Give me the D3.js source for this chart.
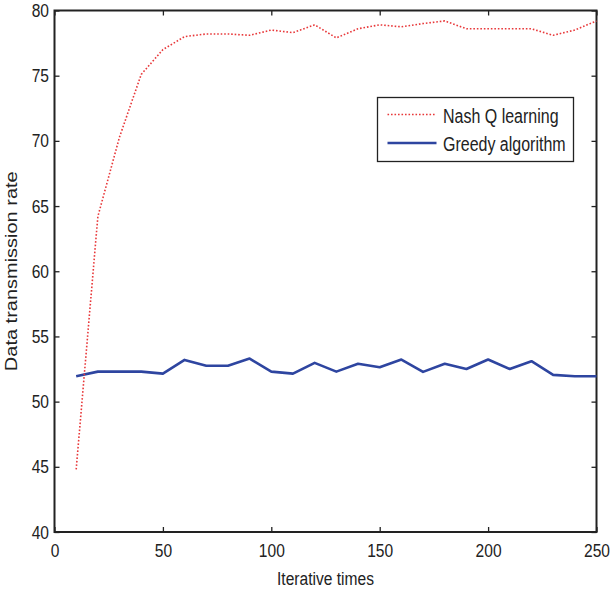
<!DOCTYPE html>
<html>
<head>
<meta charset="utf-8">
<script src="https://cdn.jsdelivr.net/npm/d3@7"></script>
<style>
  body { margin: 0; background: #fff; }
  text { font-family: "Liberation Sans", Arial, sans-serif; fill: #222; }
</style>
</head>
<body>
<div id="cont"></div>
<script>
// Data
var iterations = [10, 20, 30, 40, 50, 60, 70, 80, 90, 100, 110, 120, 130, 140, 150, 160, 170, 180, 190, 200, 210, 220, 230, 240, 250];
var nashQ = [44.8, 64.2, 70.3, 75.1, 77.0, 78.0, 78.2, 78.2, 78.1, 78.5, 78.3, 78.9, 77.9, 78.6, 78.9, 78.75, 79.0, 79.2, 78.6, 78.6, 78.6, 78.6, 78.1, 78.5, 79.2];
var greedy = [51.95, 52.3, 52.3, 52.3, 52.15, 53.2, 52.75, 52.75, 53.3, 52.3, 52.15, 52.97, 52.3, 52.9, 52.64, 53.23, 52.28, 52.9, 52.5, 53.23, 52.5, 53.1, 52.05, 51.95, 51.95];
var xTicks = [0, 50, 100, 150, 200, 250];
var yTicks = [40, 45, 50, 55, 60, 65, 70, 75, 80];
var seriesNames = ["Nash Q learning", "Greedy algorithm"];

var width = 612, height = 591;
var margin = {left: 54.5, right: 15.5, top: 10.5, bottom: 59};
var pw = width - margin.left - margin.right;
var ph = height - margin.top - margin.bottom;
var squeeze = 0.82;   // the original figure's text is horizontally compressed

// compress glyphs horizontally around the text's x anchor
var narrow = function(sel) {
    sel.each(function() {
        var t = d3.select(this);
        var tx = +t.attr("x") || 0;
        t.attr("x", 0)
         .attr("transform", "translate(" + tx + ",0) scale(" + squeeze + ",1)");
    });
};

var svg = d3.select("#cont").append("svg")
    .attr("width", width)
    .attr("height", height);

var g = svg.append("g")
    .attr("transform", "translate(" + margin.left + "," + margin.top + ")");

var x = d3.scaleLinear().domain([0, 250]).range([0, pw]);
var y = d3.scaleLinear().domain([40, 80]).range([ph, 0]);

// axes, ticks pointing inward on all four sides
var fontSize = 19;
g.append("g")
    .attr("transform", "translate(0," + ph + ")")
    .call(d3.axisBottom(x).tickValues(xTicks).tickSizeInner(-5).tickSizeOuter(0).tickPadding(12))
    .call(function(a) { a.selectAll("text").style("font-size", fontSize + "px").call(narrow); });
g.append("g")
    .call(d3.axisTop(x).tickValues(xTicks).tickSizeInner(-5).tickSizeOuter(0).tickFormat(""));
g.append("g")
    .call(d3.axisLeft(y).tickValues(yTicks).tickSizeInner(-5).tickSizeOuter(0).tickPadding(5.5))
    .call(function(a) { a.selectAll("text").style("font-size", fontSize + "px").call(narrow); });
g.append("g")
    .attr("transform", "translate(" + pw + ",0)")
    .call(d3.axisRight(y).tickValues(yTicks).tickSizeInner(-5).tickSizeOuter(0).tickFormat(""));

g.selectAll(".domain").remove();
g.selectAll(".tick line").attr("stroke", "#222").attr("stroke-width", 1.3);

g.append("rect")
    .attr("width", pw)
    .attr("height", ph)
    .attr("fill", "none")
    .attr("stroke", "#222")
    .attr("stroke-width", 2);

// lines
var line = d3.line()
    .x(function(d, i) { return x(iterations[i]); })
    .y(function(d) { return y(d); });

g.append("path")
    .datum(greedy)
    .attr("d", line)
    .attr("fill", "none")
    .attr("stroke", "#2e45a0")
    .attr("stroke-width", 2.6)
    .attr("stroke-linejoin", "round");

g.append("path")
    .datum(nashQ)
    .attr("d", line)
    .attr("fill", "none")
    .attr("stroke", "#e8383a")
    .attr("stroke-width", 1.6)
    .attr("stroke-dasharray", "1.6,1.9");

// axis labels
svg.append("text")
    .attr("x", margin.left + pw / 2)
    .attr("y", 585)
    .attr("text-anchor", "middle")
    .style("font-size", "19px")
    .text("Iterative times")
    .call(narrow);

svg.append("text")
    .attr("transform", "translate(17," + (margin.top + ph / 2) + ") rotate(-90) scale(1," + squeeze + ")")
    .attr("text-anchor", "middle")
    .style("font-size", "20px")
    .text("Data transmission rate");

// legend
var leg = svg.append("g").attr("transform", "translate(377.5,97.5)");
leg.append("rect")
    .attr("width", 196)
    .attr("height", 64)
    .attr("fill", "#fff")
    .attr("stroke", "#222")
    .attr("stroke-width", 1.3);

var legStyles = [
  {stroke: "#e8383a", w: 1.6, dash: "1.6,1.9"},
  {stroke: "#2e45a0", w: 2.6, dash: null}
];
seriesNames.forEach(function(name, i) {
  var yy = 17 + i * 28.5;
  leg.append("line")
      .attr("x1", 10).attr("x2", 59)
      .attr("y1", yy).attr("y2", yy)
      .attr("stroke", legStyles[i].stroke)
      .attr("stroke-width", legStyles[i].w)
      .attr("stroke-dasharray", legStyles[i].dash);
  leg.append("text")
      .attr("x", 65.5)
      .attr("y", yy + 8.5)
      .style("font-size", "19.5px")
      .text(name)
      .call(narrow);
});
</script>
</body>
</html>
